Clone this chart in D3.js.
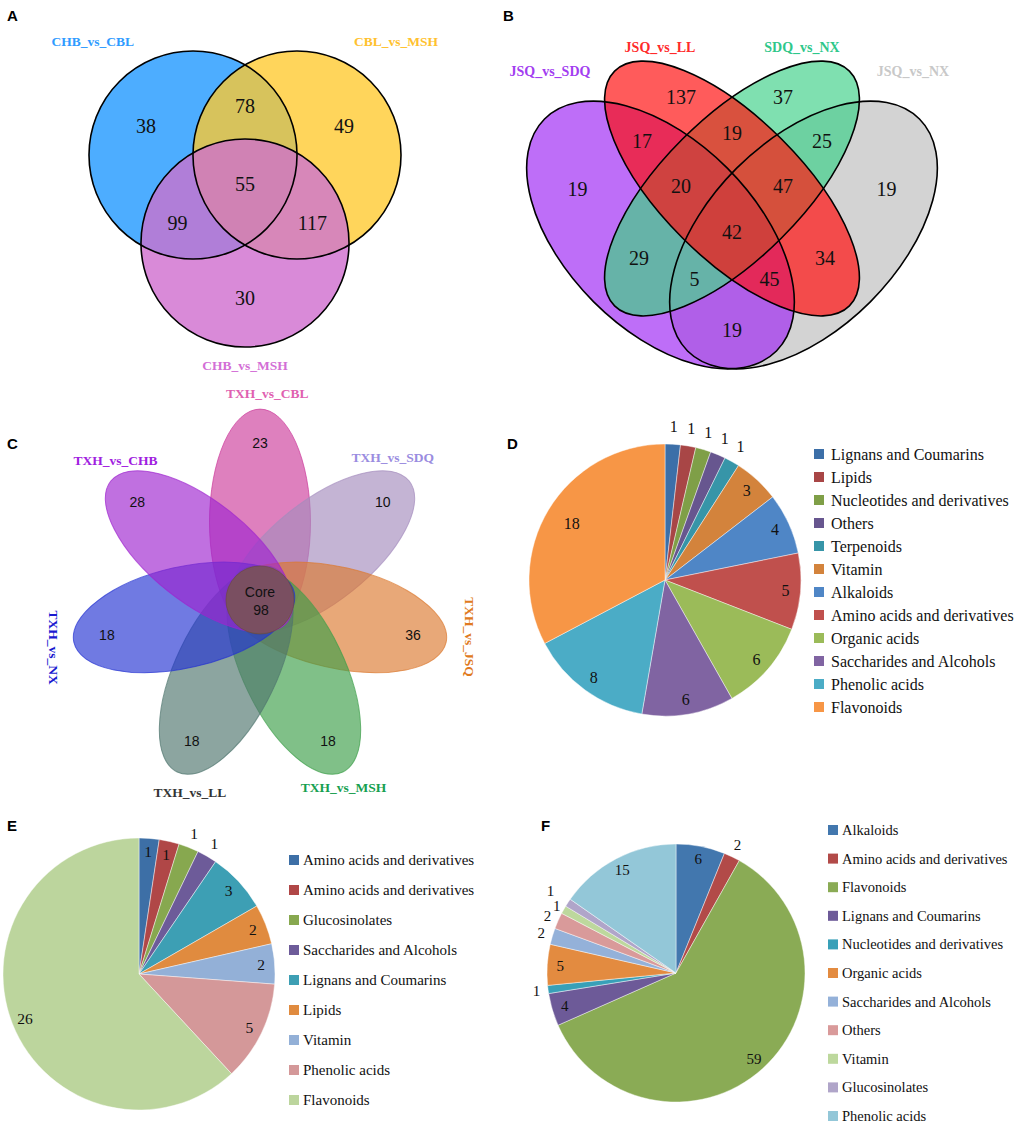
<!DOCTYPE html>
<html>
<head>
<meta charset="utf-8">
<script src="https://cdn.jsdelivr.net/npm/d3@7"></script>
<style>body{margin:0;background:#fff}</style>
</head>
<body>
<script>
// ---------- data ----------
var aSets = ["CHB_vs_CBL", "CBL_vs_MSH", "CHB_vs_MSH"];
var aRegions = ["A", "B", "C", "AB", "AC", "BC", "ABC"];
var aCounts = [38, 49, 30, 78, 99, 117, 55];

var bSets = ["JSQ_vs_SDQ", "JSQ_vs_LL", "SDQ_vs_NX", "JSQ_vs_NX"];
var bRegions = ["A", "B", "C", "D", "AB", "AC", "AD", "BC", "BD", "CD", "ABC", "ABD", "ACD", "BCD", "ABCD"];
var bCounts = [19, 137, 37, 19, 17, 29, 19, 19, 34, 25, 20, 45, 5, 47, 42];

var cSets = ["TXH_vs_CBL", "TXH_vs_SDQ", "TXH_vs_JSQ", "TXH_vs_MSH", "TXH_vs_LL", "TXH_vs_NX", "TXH_vs_CHB"];
var cUnique = [23, 10, 36, 18, 18, 18, 28];
var cCore = 98;

var dClasses = ["Lignans and Coumarins", "Lipids", "Nucleotides and derivatives", "Others", "Terpenoids", "Vitamin",
  "Alkaloids", "Amino acids and derivatives", "Organic acids", "Saccharides and Alcohols", "Phenolic acids", "Flavonoids"];
var dCounts = [1, 1, 1, 1, 1, 3, 4, 5, 6, 6, 8, 18];

var eClasses = ["Amino acids and derivatives", "Amino acids and derivatives", "Glucosinolates", "Saccharides and Alcohols",
  "Lignans and Coumarins", "Lipids", "Vitamin", "Phenolic acids", "Flavonoids"];
var eCounts = [1, 1, 1, 1, 3, 2, 2, 5, 26];

var fClasses = ["Alkaloids", "Amino acids and derivatives", "Flavonoids", "Lignans and Coumarins", "Nucleotides and derivatives",
  "Organic acids", "Saccharides and Alcohols", "Others", "Vitamin", "Glucosinolates", "Phenolic acids"];
var fCounts = [6, 2, 59, 4, 1, 5, 2, 2, 1, 1, 15];

// ---------- setup ----------
var W = 1021, H = 1125;
var SERIF = "'Liberation Serif','Times New Roman',serif";
var SANS = "'Liberation Sans',Arial,sans-serif";
var svg = d3.select("body").append("svg").attr("width", W).attr("height", H);
svg.append("rect").attr("width", W).attr("height", H).attr("fill", "#fff");

function local(p, x, y) {
  var t = p.rot * Math.PI / 180, dx = x - p.cx, dy = y - p.cy;
  return [dx * Math.cos(t) + dy * Math.sin(t), -dx * Math.sin(t) + dy * Math.cos(t)];
}
function inside(p, x, y) {
  var l = local(p, x, y);
  return (l[0] * l[0]) / (p.rx * p.rx) + (l[1] * l[1]) / (p.ry * p.ry) <= 1;
}
// approximate distance from a point to the outline of an ellipse
function edgeDist(p, x, y) {
  var l = local(p, x, y), u = l[0], v = l[1], a = p.rx, b = p.ry;
  if (a === b) return Math.abs(Math.hypot(u, v) - a);
  var f = Math.sqrt(u * u / (a * a) + v * v / (b * b));
  var g = Math.sqrt(u * u / (a * a * a * a) + v * v / (b * b * b * b));
  if (g === 0) return Math.min(a, b);
  return Math.abs(f - 1) * f / g;
}

function ellipseAttrs(sel, p) {
  return sel.attr("cx", p.cx).attr("cy", p.cy).attr("rx", p.rx).attr("ry", p.ry)
    .attr("transform", "rotate(" + p.rot + "," + p.cx + "," + p.cy + ")");
}

// generic venn: regions painted low order first, each clipped by its sets
function drawVenn(id, shapes, sx, sy, regions, counts, colors, numSize) {
  var g = svg.append("g");
  var unit = sx(1) - sx(0);
  var px = shapes.map(function (s) {
    return {cx: sx(s.x), cy: sy(s.y), rx: s.rx * unit, ry: s.ry * unit, rot: s.rot};
  });
  var defs = g.append("defs");
  px.forEach(function (p, i) {
    ellipseAttrs(defs.append("clipPath").attr("id", id + i).append("ellipse"), p);
  });
  regions.forEach(function (r, k) {
    var idx = r.split("").map(function (c) { return c.charCodeAt(0) - 65; });
    var parent = g;
    for (var j = 0; j < idx.length - 1; j++) parent = parent.append("g").attr("clip-path", "url(#" + id + idx[j] + ")");
    ellipseAttrs(parent.append("ellipse"), px[idx[idx.length - 1]]).attr("fill", colors[k]);
  });
  px.forEach(function (p) {
    ellipseAttrs(g.append("ellipse"), p).attr("fill", "none").attr("stroke", "#000").attr("stroke-width", 1.6);
  });
  // label each region at its widest point (pole of inaccessibility, grid search)
  var best = {};
  regions.forEach(function (r) { best[r] = [0, 0, -1]; });
  var ext = function (p) { return Math.max(p.rx, p.ry); };
  var x0 = d3.min(px, function (p) { return p.cx - ext(p); }), x1 = d3.max(px, function (p) { return p.cx + ext(p); });
  var y0 = d3.min(px, function (p) { return p.cy - ext(p); }), y1 = d3.max(px, function (p) { return p.cy + ext(p); });
  for (var x = x0; x <= x1; x += 1.5) for (var y = y0; y <= y1; y += 1.5) {
    var key = "";
    px.forEach(function (p, i) { if (inside(p, x, y)) key += String.fromCharCode(65 + i); });
    if (!best[key]) continue;
    var d = d3.min(px, function (p) { return edgeDist(p, x, y); });
    if (d > best[key][2]) best[key] = [x, y, d];
  }
  g.selectAll("text.n").data(regions).enter().append("text").attr("class", "n")
    .attr("x", function (r) { return best[r][0]; })
    .attr("y", function (r) { return best[r][1]; })
    .attr("text-anchor", "middle").attr("dominant-baseline", "central")
    .attr("font-family", SERIF).attr("font-size", numSize).attr("fill", "#111")
    .text(function (r, k) { return counts[k]; });
  return g;
}

function setLabels(g, names, pos, colors, sx, sy, size) {
  g.selectAll("text.s").data(names).enter().append("text").attr("class", "s")
    .attr("x", function (d, i) { return sx(pos[i][0]); }).attr("y", function (d, i) { return sy(pos[i][1]); })
    .attr("text-anchor", "middle").attr("dominant-baseline", "central")
    .attr("font-family", SERIF).attr("font-weight", "bold").attr("font-size", size)
    .attr("fill", function (d, i) { return colors[i]; }).text(function (d) { return d; });
}

// ---------- A ----------
var sxA = d3.scaleLinear().domain([0, 1]).range([40, 450]);
var syA = d3.scaleLinear().domain([0, 1]).range([30, 440]);
var aShapes = [
  {x: 0.3732, y: 0.3049, rx: 0.2537, ry: 0.2537, rot: 0},
  {x: 0.6268, y: 0.3049, rx: 0.2537, ry: 0.2537, rot: 0},
  {x: 0.5, y: 0.5195, rx: 0.2537, ry: 0.2537, rot: 0}
];
var gA = drawVenn("ca", aShapes, sxA, syA, aRegions, aCounts,
  ["#4dadff", "#ffd55b", "#d98ad8", "#d7c35c", "#b07ed8", "#d787b9", "#d082b4"], 20);
setLabels(gA, aSets, [[0.129, 0.027], [0.8683, 0.027], [0.5, 0.8171]], ["#2f9bff", "#ffc12e", "#d36fd6"], sxA, syA, 13.5);

// ---------- B ----------
var sxB = d3.scaleLinear().domain([0, 1]).range([527, 937]);
var syB = d3.scaleLinear().domain([0, 1]).range([30, 440]);
var bShapes = [
  {x: 0.3256, y: 0.5, rx: 0.4, ry: 0.2305, rot: 45},
  {x: 0.5, y: 0.3866, rx: 0.405, ry: 0.1707, rot: 45},
  {x: 0.5, y: 0.3866, rx: 0.405, ry: 0.1707, rot: -45},
  {x: 0.6744, y: 0.5, rx: 0.4, ry: 0.2305, rot: -45}
];
var gB = drawVenn("cb", bShapes, sxB, syB, bRegions, bCounts,
  ["#be6ef8", "#ff5b5b", "#7fe0b0", "#d3d3d3", "#e82c58", "#66b3a8", "#b05fe8", "#d9513e", "#f34b4b",
   "#6dd1a1", "#cf4240", "#e3295a", "#66b3a8", "#d5503c", "#cf403c"], 20);
setLabels(gB, bSets, [[0.056, 0.1], [0.3244, 0.0439], [0.6707, 0.0439], [0.9415, 0.1]],
  ["#a23df0", "#ff2a2a", "#2ec78a", "#c8c8c8"], sxB, syB, 14);

// ---------- C (flower) ----------
var sxC = d3.scaleLinear().domain([0, 1]).range([55, 465]);
var syC = d3.scaleLinear().domain([0, 1]).range([395, 805]);
var cUnit = sxC(1) - sxC(0);
var petalOff = 0.19, petalA = 0.2756, petalB = 0.1232, numR = 0.383, coreR = 0.083;
var cColors = ["#cc3c9b", "#a48cbd", "#dc792f", "#3c9e48", "#4e756d", "#2332d2", "#9e23cf"];
var cTextColors = ["#e060b0", "#9a8ce0", "#e07a20", "#16a050", "#333333", "#1a1ad0", "#a020e0"];
var cLabelPolar = [[88, 0.505], [47, 0.475], [-10, 0.52], [-66, 0.5], [-110, 0.5], [-167, 0.517], [136, 0.49]];
var gC = svg.append("g");
var angle = function (i) { return (90 - i * 360 / cSets.length) * Math.PI / 180; };
gC.selectAll("ellipse.p").data(cSets).enter().append("ellipse").attr("class", "p")
  .each(function (d, i) {
    var t = angle(i);
    ellipseAttrs(d3.select(this), {cx: sxC(0.5 + petalOff * Math.cos(t)), cy: syC(0.5 - petalOff * Math.sin(t)),
      rx: petalA * cUnit, ry: petalB * cUnit, rot: -t * 180 / Math.PI});
  })
  .attr("fill", function (d, i) { return cColors[i]; }).attr("fill-opacity", 0.65)
  .attr("stroke", function (d, i) { return cColors[i]; }).attr("stroke-opacity", 0.7).attr("stroke-width", 1);
gC.append("circle").attr("cx", sxC(0.5)).attr("cy", syC(0.5)).attr("r", coreR * cUnit)
  .attr("fill", "#7a5550").attr("fill-opacity", 0.85).attr("stroke", "#6a4a3a").attr("stroke-opacity", 0.6);
gC.selectAll("text.n").data(cUnique).enter().append("text").attr("class", "n")
  .attr("x", function (d, i) { return sxC(0.5 + numR * Math.cos(angle(i))); })
  .attr("y", function (d, i) { return syC(0.5 - numR * Math.sin(angle(i))); })
  .attr("text-anchor", "middle").attr("dominant-baseline", "central")
  .attr("font-family", SANS).attr("font-size", 14).attr("fill", "#111").text(function (d) { return d; });
gC.append("text").attr("x", sxC(0.5)).attr("y", syC(0.5) - 8).attr("text-anchor", "middle").attr("dominant-baseline", "central")
  .attr("font-family", SANS).attr("font-size", 14).attr("fill", "#111").text("Core");
gC.append("text").attr("x", sxC(0.5) + 1).attr("y", syC(0.5) + 10).attr("text-anchor", "middle").attr("dominant-baseline", "central")
  .attr("font-family", SANS).attr("font-size", 14).attr("fill", "#111").text(cCore);
gC.selectAll("text.s").data(cSets).enter().append("text").attr("class", "s")
  .attr("transform", function (d, i) {
    var t = cLabelPolar[i][0] * Math.PI / 180, r = cLabelPolar[i][1];
    var x = sxC(0.5 + r * Math.cos(t)), y = syC(0.5 - r * Math.sin(t));
    var rot = (i === 2 || i === 5) ? 90 : 0;
    return "translate(" + x + "," + y + ") rotate(" + rot + ")";
  })
  .attr("text-anchor", "middle").attr("dominant-baseline", "central")
  .attr("font-family", SERIF).attr("font-weight", "bold").attr("font-size", 13.5)
  .attr("fill", function (d, i) { return cTextColors[i]; }).text(function (d) { return d; });

// ---------- pies ----------
function drawPie(cx, cy, r, names, values, colors, labelR, numSize, leg) {
  var g = svg.append("g").attr("transform", "translate(" + cx + "," + cy + ")");
  var arcs = d3.pie().sort(null).value(function (d) { return d; })(values);
  var arc = d3.arc().innerRadius(0).outerRadius(r);
  g.selectAll("path").data(arcs).enter().append("path").attr("d", arc)
    .attr("fill", function (d, i) { return colors[i]; })
    .attr("stroke", "#fff").attr("stroke-opacity", 0.55).attr("stroke-width", 0.8);
  g.selectAll("text").data(arcs).enter().append("text")
    .attr("transform", function (d, i) {
      var lr = labelR[i] * r;
      return "translate(" + d3.arc().innerRadius(lr).outerRadius(lr).centroid(d) + ")";
    })
    .attr("text-anchor", "middle").attr("dominant-baseline", "central")
    .attr("font-family", SERIF).attr("font-size", numSize).attr("fill", "#111")
    .text(function (d) { return d.data; });
  var lg = svg.append("g");
  var rows = lg.selectAll("g").data(names).enter().append("g")
    .attr("transform", function (d, i) { return "translate(" + leg.x + "," + (leg.y + i * leg.step) + ")"; });
  rows.append("rect").attr("x", 0).attr("y", -5).attr("width", 10).attr("height", 10)
    .attr("fill", function (d, i) { return colors[i]; });
  rows.append("text").attr("x", leg.tx).attr("y", 0).attr("dominant-baseline", "central")
    .attr("font-family", SERIF).attr("font-size", leg.size).attr("fill", "#111").text(function (d) { return d; });
}

// label radius per slice, as a fraction of the pie radius
drawPie(665, 580, 136, dClasses, dCounts,
  ["#3c6fa8", "#a84646", "#7f9f47", "#67568f", "#3795a8", "#d3833c", "#4f86c6", "#c0504d", "#9bbb59", "#8064a2", "#4bacc6", "#f79646"],
  [1.13, 1.13, 1.13, 1.13, 1.13, 0.89, 0.89, 0.89, 0.89, 0.89, 0.89, 0.8], 16, {x: 814, y: 454, step: 23, tx: 17, size: 16});

drawPie(139, 974, 136, eClasses, eCounts,
  ["#3d6fa6", "#b04747", "#87a84f", "#6d5b99", "#3d9fb4", "#e08b3f", "#93b0d7", "#d49899", "#bcd59d"],
  [0.9, 0.9, 1.11, 1.11, 0.9, 0.9, 0.9, 0.9, 0.9], 15.5, {x: 289, y: 860, step: 30, tx: 14, size: 15});

drawPie(676, 973, 129, fClasses, fCounts,
  ["#4277ae", "#b24a48", "#8aab55", "#6d5a98", "#38a0b8", "#e38b40", "#94b1d9", "#d99a9a", "#bdd89d", "#b0a5c9", "#93c7d8"],
  [0.9, 1.1, 0.9, 0.9, 1.09, 0.9, 1.09, 1.09, 1.06, 1.16, 0.9], 15, {x: 828, y: 830, step: 28.6, tx: 14, size: 14.5});

// ---------- panel letters ----------
var letters = [["A", 7, 21], ["B", 503, 21], ["C", 7, 449], ["D", 507, 449], ["E", 7, 831], ["F", 541, 831]];
svg.selectAll("text.L").data(letters).enter().append("text").attr("class", "L")
  .attr("x", function (d) { return d[1]; }).attr("y", function (d) { return d[2]; })
  .attr("font-family", SANS).attr("font-weight", "bold").attr("font-size", 15).attr("fill", "#000")
  .text(function (d) { return d[0]; });
</script>
</body>
</html>
